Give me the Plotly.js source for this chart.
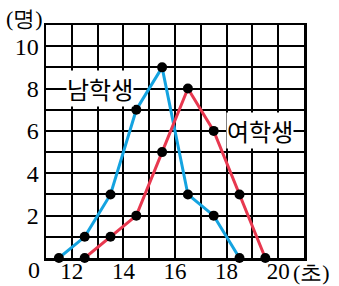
<!DOCTYPE html>
<html><head><meta charset="utf-8">
<script src="https://cdn.plot.ly/plotly-3.0.1.min.js"></script>
<style>html,body{margin:0;padding:0;background:#fff;}#chart{width:339px;height:286px;}</style>
</head><body><div id="chart"></div>
<script>
const boysX = [11.5, 12.5, 13.5, 14.5, 15.5, 16.5, 17.5, 18.5];
const boysY = [0, 1, 3, 7, 9, 3, 2, 0];
const girlsX = [12.5, 13.5, 14.5, 15.5, 16.5, 17.5, 18.5, 19.5];
const girlsY = [0, 1, 2, 5, 8, 6, 3, 0];
const xTickVals = [11, 12, 13, 14, 15, 16, 17, 18, 19, 20, 21];
const xTickText = ["", "12", "", "14", "", "16", "", "18", "", "20", ""];
const yTickVals = [0, 1, 2, 3, 4, 5, 6, 7, 8, 9, 10, 11];
const yTickText = ["", "", "2", "", "4", "", "6", "", "8", "", "10", ""];
const boysName = "남학생";
const girlsName = "여학생";

const serif = "'Times New Roman', 'Liberation Serif', serif";
const kfont = "'Noto Sans CJK KR'";

const traces = [
  {x: boysX, y: boysY, mode: "lines+markers", line: {color: "#14A3E0", width: 3},
   marker: {color: "#000", size: 10}, cliponaxis: false, hoverinfo: "skip"},
  {x: girlsX, y: girlsY, mode: "lines+markers", line: {color: "#E8384F", width: 3},
   marker: {color: "#000", size: 10}, cliponaxis: false, hoverinfo: "skip"}
];

const layout = {
  width: 339, height: 286,
  margin: {l: 46, r: 35, t: 25, b: 28},
  paper_bgcolor: "#fff", plot_bgcolor: "#fff",
  showlegend: false,
  xaxis: {range: [11, 21], tickmode: "array", tickvals: xTickVals, ticktext: xTickText,
    showgrid: true, gridcolor: "#000", gridwidth: 2, zeroline: false,
    showline: true, linecolor: "#000", linewidth: 2.5, mirror: true,
    ticks: "", ticklabelstandoff: -9, tickfont: {family: serif, size: 23, color: "#000"}, fixedrange: true},
  yaxis: {range: [0, 11], tickmode: "array", tickvals: yTickVals, ticktext: yTickText,
    showgrid: true, gridcolor: "#000", gridwidth: 2, zeroline: false,
    showline: true, linecolor: "#000", linewidth: 2.5, mirror: true,
    ticks: "", ticklabelstandoff: 0, tickfont: {family: serif, size: 24, color: "#000"}, fixedrange: true},
  annotations: [
    {xref: "x", yref: "y", x: 13.1, y: 8, text: boysName, showarrow: false,
     font: {family: kfont, size: 24, color: "#000"}, bgcolor: "#fff", borderpad: 0},
    {xref: "x", yref: "y", x: 19.3, y: 6, text: girlsName, showarrow: false,
     font: {family: kfont, size: 24, color: "#000"}, bgcolor: "#fff", borderpad: 0},
    {xref: "paper", yref: "paper", x: -0.015, y: 0, xanchor: "right", yanchor: "top", yshift: 3,
     text: "0", showarrow: false, font: {family: serif, size: 24, color: "#000"}},
    {xref: "paper", yref: "paper", x: -0.005, y: 1, xanchor: "right", yanchor: "bottom", yshift: -8,
     text: "(명)", showarrow: false, font: {family: serif, size: 22, color: "#000"}},
    {xref: "x", yref: "paper", x: 20.5, y: 0, xanchor: "left", yanchor: "top", yshift: 0,
     text: "(초)", showarrow: false, font: {family: serif, size: 22, color: "#000"}}
  ]
};
Plotly.newPlot("chart", traces, layout, {staticPlot: true, displayModeBar: false});
</script></body></html>
